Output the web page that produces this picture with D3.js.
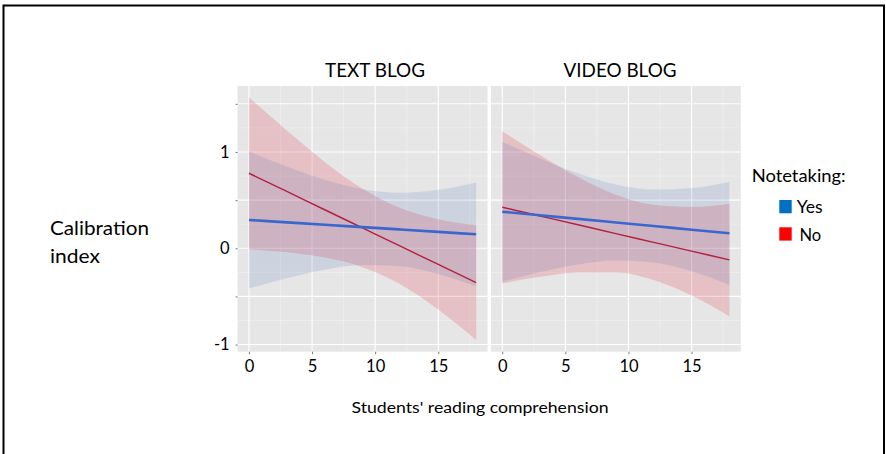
<!DOCTYPE html>
<html>
<head>
<meta charset="utf-8">
<script src="https://cdn.jsdelivr.net/npm/d3@7"></script>
<style>
  html, body { margin: 0; padding: 0; background: #fff; }
  svg { display: block; }
  text { font-family: Lato, "Open Sans", sans-serif; fill: #000; }
</style>
</head>
<body>
<svg id="chart" width="886" height="454"></svg>
<script>
// ---- data ----
const xPoints = [0, 3, 6, 9, 12, 15, 18];
const panelTitles = ["TEXT BLOG", "VIDEO BLOG"];
const legendTitle = "Notetaking:";
const seriesNames = ["Yes", "No"];
const yTickLabels = [-1, 0, 1];
const xTickLabels = [0, 5, 10, 15];

// TEXT BLOG
const textYesFit   = [0.294, 0.269, 0.244, 0.220, 0.195, 0.170, 0.145];
const textYesUpper = [1.007, 0.849, 0.711, 0.614, 0.577, 0.607, 0.684];
const textYesLower = [-0.419, -0.311, -0.223, -0.174, -0.187, -0.267, -0.394];
const textNoFit    = [0.779, 0.590, 0.400, 0.211, 0.022, -0.168, -0.357];
const textNoUpper  = [1.569, 1.222, 0.897, 0.619, 0.418, 0.301, 0.238];
const textNoLower  = [-0.011, -0.042, -0.097, -0.197, -0.374, -0.637, -0.952];

// VIDEO BLOG
const videoYesFit   = [0.380, 0.343, 0.305, 0.268, 0.231, 0.193, 0.156];
const videoYesUpper = [1.107, 0.933, 0.778, 0.662, 0.609, 0.625, 0.692];
const videoYesLower = [-0.347, -0.247, -0.168, -0.126, -0.147, -0.239, -0.380];
const videoNoFit    = [0.426, 0.335, 0.244, 0.152, 0.061, -0.030, -0.121];
const videoNoUpper  = [1.216, 0.967, 0.740, 0.556, 0.451, 0.430, 0.463];
const videoNoLower  = [-0.364, -0.297, -0.252, -0.252, -0.329, -0.490, -0.705];

const panelData = [
  { title: panelTitles[0],
    series: [
      { name: "No",  fit: textNoFit,  lo: textNoLower,  hi: textNoUpper },
      { name: "Yes", fit: textYesFit, lo: textYesLower, hi: textYesUpper }
    ] },
  { title: panelTitles[1],
    series: [
      { name: "No",  fit: videoNoFit,  lo: videoNoLower,  hi: videoNoUpper },
      { name: "Yes", fit: videoYesFit, lo: videoYesLower, hi: videoYesUpper }
    ] }
];

// ---- styles ----
const bandFill  = { Yes: "rgb(70,110,180)", No: "rgb(225,40,60)" };
const bandAlpha = { Yes: 0.15, No: 0.2 };
const lineColor = { Yes: "#3a67cf", No: "#b3203e" };
const lineWidth = { Yes: 2.6, No: 1.4 };
const legendColor = { Yes: "#0070c0", No: "#ff0000" };
const CAP = 0.7165; // Lato cap height / em

const svg = d3.select("#chart");

// outer frame
svg.append("rect")
  .attr("x", 3.5).attr("y", 5.5).attr("width", 880.5).attr("height", 470)
  .attr("fill", "none").attr("stroke", "#000").attr("stroke-width", 2);

// size text by cap height, then stretch/squeeze to the reference width
function sizeText(sel, capH, w) {
  const fs = capH / CAP;
  sel.attr("font-size", fs);
  if (w) sel.attr("textLength", w).attr("lengthAdjust", "spacingAndGlyphs");
  return fs;
}

const panelTop = 86, panelBottom = 351.7;
const panelLefts = [237.6, 490.9];
const panelWidth = 249.9;

const y = d3.scaleLinear().domain([-1.074, 1.685]).range([panelBottom, panelTop]);
const yMajor = [-1, -0.5, 0, 0.5, 1, 1.5];
const yMinor = [-0.75, -0.25, 0.25, 0.75, 1.25];
const xMajor = [0, 5, 10, 15];
const xMinor = [2.5, 7.5, 12.5, 17.5];

const titleCenters = [375, 620];
const titleWidths = [100, 113];

panelData.forEach((p, i) => {
  const left = panelLefts[i];
  const x = d3.scaleLinear().domain([-0.9, 18.9]).range([left, left + panelWidth]);
  const g = svg.append("g");

  g.append("rect")
    .attr("x", left).attr("y", panelTop)
    .attr("width", panelWidth).attr("height", panelBottom - panelTop)
    .attr("fill", "#e6e6e6");

  // grid
  g.selectAll(".ymin").data(yMinor).join("line")
    .attr("x1", left).attr("x2", left + panelWidth)
    .attr("y1", d => y(d)).attr("y2", d => y(d))
    .attr("stroke", "#f2f2f2").attr("stroke-width", 0.6);
  g.selectAll(".xmin").data(xMinor).join("line")
    .attr("y1", panelTop).attr("y2", panelBottom)
    .attr("x1", d => x(d)).attr("x2", d => x(d))
    .attr("stroke", "#f2f2f2").attr("stroke-width", 0.6);
  g.selectAll(".ymaj").data(yMajor).join("line")
    .attr("x1", left).attr("x2", left + panelWidth)
    .attr("y1", d => y(d)).attr("y2", d => y(d))
    .attr("stroke", "#fff").attr("stroke-width", 1.1);
  g.selectAll(".xmaj").data(xMajor).join("line")
    .attr("y1", panelTop).attr("y2", panelBottom)
    .attr("x1", d => x(d)).attr("x2", d => x(d))
    .attr("stroke", "#fff").attr("stroke-width", 1.1);

  // bands
  const area = d3.area()
    .x((d, j) => x(xPoints[j]))
    .y0(d => y(d[0])).y1(d => y(d[1]))
    .curve(d3.curveMonotoneX);
  p.series.forEach(s => {
    const pts = s.lo.map((v, j) => [v, s.hi[j]]);
    g.append("path").attr("d", area(pts))
      .attr("fill", bandFill[s.name]).attr("fill-opacity", bandAlpha[s.name]);
  });
  // lines
  const line = d3.line()
    .x((d, j) => x(xPoints[j])).y(d => y(d))
    .curve(d3.curveMonotoneX);
  p.series.forEach(s => {
    g.append("path").attr("d", line(s.fit))
      .attr("fill", "none").attr("stroke", lineColor[s.name])
      .attr("stroke-width", lineWidth[s.name]);
  });

  // x axis ticks
  const xAxis = d3.axisBottom(x).tickValues(xTickLabels).tickSize(2.5).tickPadding(8);
  const ax = svg.append("g").attr("transform", `translate(0,${panelBottom})`).call(xAxis);
  ax.select(".domain").remove();
  ax.selectAll(".tick line").attr("stroke", "#555").attr("stroke-width", 0.8);
  ax.selectAll(".tick text").attr("font-size", 16.5).attr("fill", "#000")
    .attr("font-family", "Lato, 'Open Sans', sans-serif").attr("dy", "0.62em");

  // panel title
  const t = svg.append("text").text(p.title)
    .attr("x", titleCenters[i]).attr("y", 76.7)
    .attr("text-anchor", "middle");
  sizeText(t, 13.8, titleWidths[i]);
});

// y axis
const yAxisG = svg.append("g").attr("transform", `translate(${panelLefts[0]},0)`)
  .call(d3.axisLeft(y).tickValues(yMajor).tickSize(2).tickPadding(6)
    .tickFormat(d => yTickLabels.includes(d) ? d3.format("d")(d) : ""));
yAxisG.select(".domain").remove();
yAxisG.selectAll(".tick line").attr("stroke", "#555").attr("stroke-width", 0.8);
yAxisG.selectAll(".tick text").attr("font-size", 16.5).attr("fill", "#000")
  .attr("font-family", "Lato, 'Open Sans', sans-serif")
  .text(d => yTickLabels.includes(d) ? String(d) : "");

// y title
const yt1 = svg.append("text").text("Calibration").attr("x", 50).attr("y", 235);
const fsY = sizeText(yt1, 13.6, 99);
const yt2 = svg.append("text").text("index").attr("x", 50).attr("y", 262.7);
sizeText(yt2, 13.6, 50);

// x title
const xt = svg.append("text").text("Students' reading comprehension")
  .attr("x", 480).attr("y", 413.3).attr("text-anchor", "middle");
sizeText(xt, 11.6, 257);

// legend
const lt = svg.append("text").text(legendTitle).attr("x", 751.7).attr("y", 181.7);
sizeText(lt, 11.8, 94);
const legendY = { Yes: 200, No: 227.3 };
const legendTextX = { Yes: 796.7, No: 799.5 };
const legendTextW = { Yes: 26, No: 21.7 };
seriesNames.forEach(n => {
  svg.append("rect").attr("x", 779.3).attr("y", legendY[n])
    .attr("width", 12.4).attr("height", 13.3).attr("fill", legendColor[n]);
  const lx = svg.append("text").text(n).attr("x", legendTextX[n]).attr("y", legendY[n] + 13.3);
  sizeText(lx, 11.8, legendTextW[n]);
});
</script>
</body>
</html>
